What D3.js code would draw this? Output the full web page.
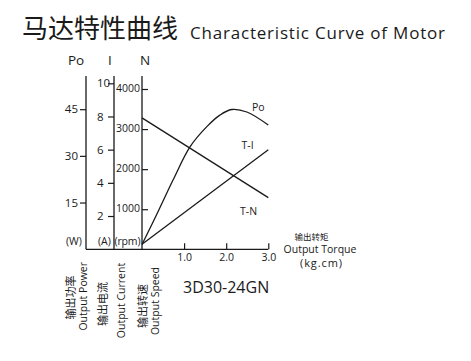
<!DOCTYPE html>
<html>
<head>
<meta charset="utf-8">
<script src="https://cdn.jsdelivr.net/npm/d3@7/dist/d3.min.js"></script>
<style>
  html, body { margin: 0; padding: 0; background: #fff; }
  svg { display: block; }
  text { font-family: "Open Sans", "Noto Sans", sans-serif; fill: #1a1a1a; }
  .cjk { font-family: "Noto Sans CJK SC", sans-serif; }
</style>
</head>
<body>
<svg id="chart" width="471" height="361"></svg>
<script>
// ---- data ----
const torque      = [0, 0.4, 0.74, 1.14, 1.54, 1.85, 2.13, 2.49, 3.0];
const powerW      = [1.5, 12.6, 22.3, 32.9, 39.4, 43.1, 44.9, 44.1, 39.9];
const lineTorque  = [0, 3.0];
const currentA    = [0.3, 6.0];
const speedRpm    = [3280, 1290];
const xTicks      = [1.0, 2.0, 3.0];
const powerTicks  = [15, 30, 45];
const currentTicks= [2, 4, 6, 8, 10];
const speedTicks  = [1000, 2000, 3000, 4000];

const svg = d3.select("#chart");
const ink = "#1a1a1a";

// scales
const x  = d3.scaleLinear().domain([0, 3]).range([142, 268.3]);
const yP = d3.scaleLinear().domain([0, 45]).range([249.2, 109.2]);
const yI = d3.scaleLinear().domain([0, 10]).range([249.2, 83.3]);
const yN = d3.scaleLinear().domain([0, 4000]).range([249.3, 89]);

const axP = 86, axI = 114, axN = 142, yTop = 76, yBase = 249.3;

// Titles
svg.append("text").attr("class", "cjk").attr("x", 22).attr("y", 38)
  .attr("font-size", 26).attr("textLength", 156).attr("lengthAdjust", "spacing")
  .text("马达特性曲线");
svg.append("text").attr("x", 190).attr("y", 38.5)
  .attr("font-size", 17).attr("textLength", 255).attr("lengthAdjust", "spacing")
  .text("Characteristic Curve of Motor");

// header Po I N
svg.append("text").attr("x", 68).attr("y", 65).attr("font-size", 13.5).text("Po");
svg.append("text").attr("x", 110).attr("y", 65).attr("font-size", 13.5).attr("text-anchor", "middle").text("I");
svg.append("text").attr("x", 145).attr("y", 65).attr("font-size", 13.5).attr("text-anchor", "middle").text("N");

// vertical axis lines
[axP, axI, axN].forEach(ax => {
  svg.append("line").attr("x1", ax).attr("x2", ax).attr("y1", yTop).attr("y2", yBase)
    .attr("stroke", ink).attr("stroke-width", 1.3);
});
// baseline
svg.append("line").attr("x1", axP).attr("x2", x(3)).attr("y1", yBase).attr("y2", yBase)
  .attr("stroke", ink).attr("stroke-width", 1.3);

function styleAxis(g) {
  g.select(".domain").remove();
  g.selectAll(".tick line").attr("stroke", ink).attr("stroke-width", 1.2);
  g.selectAll(".tick text").attr("fill", ink).attr("font-family", "'Open Sans', sans-serif");
}

// Power axis
const gP = svg.append("g").attr("transform", `translate(${axP},0)`)
  .call(d3.axisLeft(yP).tickValues(powerTicks).tickSize(6).tickPadding(2).tickFormat(d3.format("d")));
styleAxis(gP);
gP.selectAll(".tick text").attr("font-size", 11.5);

// Current axis
const gI = svg.append("g").attr("transform", `translate(${axI},0)`)
  .call(d3.axisLeft(yI).tickValues(currentTicks).tickSize(6).tickFormat(d3.format("d")));
styleAxis(gI);
gI.selectAll(".tick text").attr("font-size", 11.5).attr("text-anchor", "start").attr("x", -17);

// Speed axis (ticks to right, labels left)
const gN = svg.append("g").attr("transform", `translate(${axN},0)`)
  .call(d3.axisRight(yN).tickValues(speedTicks).tickSize(6).tickFormat(d3.format("d")));
styleAxis(gN);
gN.selectAll(".tick text").attr("font-size", 10.5).attr("text-anchor", "start").attr("x", -26).attr("dy", "0.25em");

// Torque axis
const gX = svg.append("g").attr("transform", `translate(0,${yBase})`)
  .call(d3.axisBottom(x).tickValues(xTicks).tickSize(-6).tickPadding(4).tickFormat(d3.format(".1f")));
styleAxis(gX);
gX.selectAll(".tick text").attr("font-size", 10.5);

// unit labels
svg.append("text").attr("x", 66).attr("y", 244.5).attr("font-size", 10.5).text("(W)");
svg.append("text").attr("x", 98).attr("y", 244.5).attr("font-size", 10.5).text("(A)");
svg.append("text").attr("x", 114.5).attr("y", 244.5).attr("font-size", 10.5).attr("textLength", 26).text("(rpm)");

// curves
const lineP = d3.line().x((d, i) => x(torque[i])).y(d => yP(d)).curve(d3.curveCatmullRom.alpha(0.5));
svg.append("path").datum(powerW).attr("d", lineP)
  .attr("fill", "none").attr("stroke", ink).attr("stroke-width", 1.3);

const lineI = d3.line().x((d, i) => x(lineTorque[i])).y(d => yI(d));
svg.append("path").datum(currentA).attr("d", lineI)
  .attr("fill", "none").attr("stroke", ink).attr("stroke-width", 1.3);

const lineN = d3.line().x((d, i) => x(lineTorque[i])).y(d => yN(d));
svg.append("path").datum(speedRpm).attr("d", lineN)
  .attr("fill", "none").attr("stroke", ink).attr("stroke-width", 1.3);

// curve labels
svg.append("text").attr("x", 252).attr("y", 110.5).attr("font-size", 10.5).text("Po");
svg.append("text").attr("x", 241.5).attr("y", 148.5).attr("font-size", 10.5).text("T-I");
svg.append("text").attr("x", 240).attr("y", 215).attr("font-size", 10.5).text("T-N");

// torque axis title
svg.append("text").attr("class", "cjk").attr("x", 311.5).attr("y", 239.5).attr("font-size", 8.5)
  .attr("text-anchor", "middle").text("输出转矩");
svg.append("text").attr("x", 320).attr("y", 252.5).attr("font-size", 10.5)
  .attr("text-anchor", "middle").text("Output Torque");
svg.append("text").attr("x", 321).attr("y", 266.5).attr("font-size", 11)
  .attr("text-anchor", "middle").attr("textLength", 42).text("(kg.cm)");

// model
svg.append("text").attr("x", 183).attr("y", 293.3).attr("font-size", 16).text("3D30-24GN");

// rotated bottom labels
const rot = [
  { cx: 70.7,  cy: 297.5, t: "输出功率", cjk: true },
  { cx: 83.3,  cy: 296.3, t: "Output Power" },
  { cx: 102.7, cy: 304,   t: "输出电流", cjk: true },
  { cx: 121.7, cy: 300.5, t: "Output Current" },
  { cx: 142.7, cy: 306,   t: "输出转速", cjk: true },
  { cx: 155,   cy: 301,   t: "Output Speed" }
];
rot.forEach(r => {
  svg.append("text")
    .attr("class", r.cjk ? "cjk" : null)
    .attr("transform", `translate(${r.cx},${r.cy}) rotate(-90)`)
    .attr("text-anchor", "middle").attr("dy", "0.35em")
    .attr("font-size", r.cjk ? 11 : 10.5)
    .text(r.t);
});
</script>
</body>
</html>
